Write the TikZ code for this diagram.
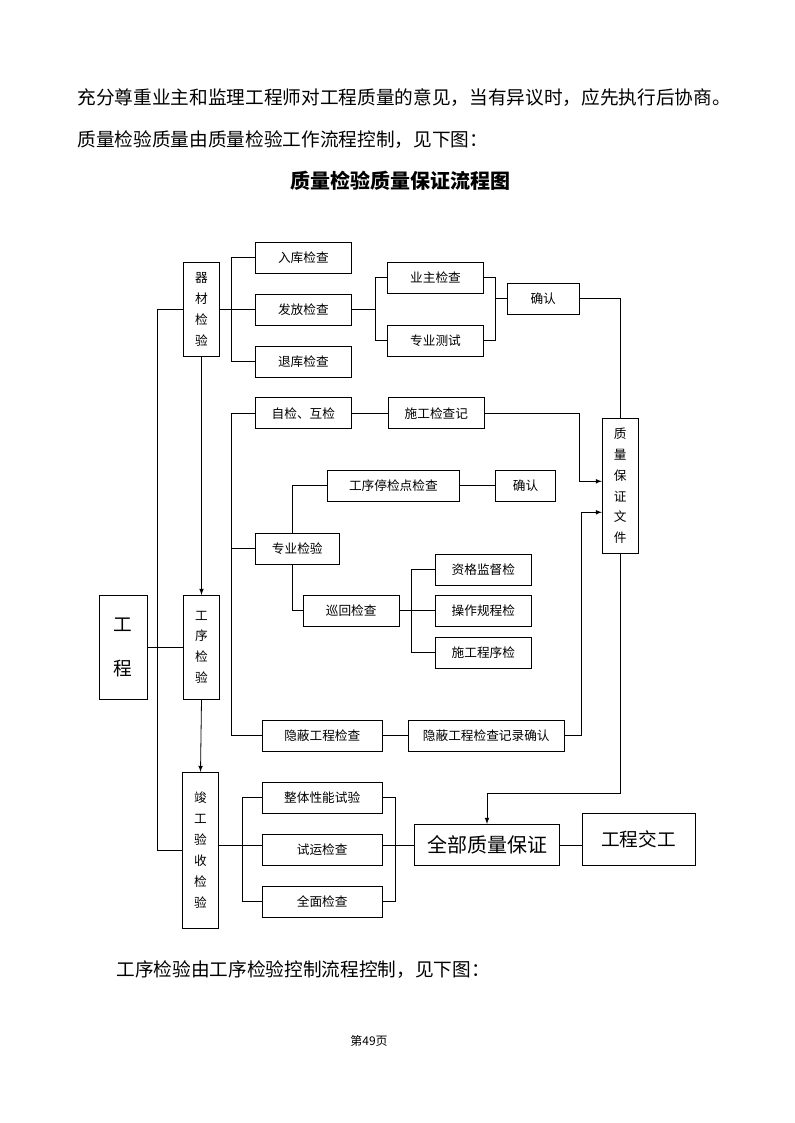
\documentclass[tikz,border=0pt]{standalone}
\usepackage{fontspec}
\setmainfont{Noto Sans CJK SC}
\begin{document}
\begin{tikzpicture}[x=0.75pt,y=-0.75pt,line width=0.6pt,>=latex]
    \tikzstyle{every node}=[font=\fontsize{9.5}{15.7}\selectfont]
    \tikzstyle{box}=[draw,inner sep=0pt,minimum height=23.25pt]
    \tikzstyle{wbox}=[box,minimum width=72pt]
    \tikzstyle{lbox}=[box,minimum width=89.8pt]
    \tikzstyle{vbox}=[draw,inner sep=0pt,minimum width=27pt,align=center]
    \tikzstyle{para}=[anchor=west,inner sep=0pt,font=\fontsize{14}{16}\selectfont]

    \useasboundingbox (0,0) rectangle (794,1123);

    % Text around the chart
    \node[para] (p1) at (77,98) {充分尊重业主和监理工程师对工程质量的意见，当有异议时，应先执行后协商。};
    \node[para] (p2) at (77,140) {质量检验质量由质量检验工作流程控制，见下图：};
    \node[font=\bfseries\fontsize{15}{17}\selectfont] (title) at (400,181) {质量检验质量保证流程图};
    \node[para] (p3) at (116,970) {工序检验由工序检验控制流程控制，见下图：};
    \node[font=\fontsize{9}{11}\selectfont] (pg) at (369,1041) {第49页};

    % Draw the material inspection part
    \node[vbox,minimum height=70.5pt] (qc) at (201.5,309.5) {器\\材\\检\\验};
    \foreach \name/\y/\txt in {rk/257.5/入库检查,ff/309.7/发放检查,tk/361.5/退库检查}
        \node[wbox] (\name) at (303.4,\y) {\txt};
    \node[wbox] (yz) at (435.5,277.8) {业主检查};
    \node[wbox] (zc) at (435.5,340.8) {专业测试};
    \node[box,minimum width=54.2pt] (qr1) at (543.2,298.8) {确认};

    % Draw the process inspection part
    \node[wbox] (zj) at (303.4,413.3) {自检、互检};
    \node[wbox] (sj) at (436.4,413.3) {施工检查记};
    \node[vbox,minimum height=101.25pt] (wj) at (620.3,485.8) {质\\量\\保\\证\\文\\件};
    \node[box,minimum width=98.85pt] (tj) at (393.4,485.8) {工序停检点检查};
    \node[box,minimum width=45.2pt] (qr2) at (525.5,485.8) {确认};
    \node[box,minimum width=63pt] (zy) at (297.3,548.8) {专业检验};
    \node[wbox] (xh) at (351.2,610.8) {巡回检查};
    \foreach \name/\y/\txt in {zg/569.5/资格监督检,cz/610.8/操作规程检,sx/652.8/施工程序检}
        \node[wbox] (\name) at (483.4,\y) {\txt};
    \node[vbox,minimum width=35.85pt,minimum height=78pt,font=\fontsize{14}{32.5}\selectfont] (gc) at (123.2,647.3) {工\\程};
    \node[vbox,minimum height=78pt] (gx) at (201.5,647.3) {工\\序\\检\\验};
    \node[lbox] (yb) at (322.3,735.8) {隐蔽工程检查};
    \node[box,minimum width=117pt] (yj) at (486.3,735.8) {隐蔽工程检查记录确认};

    % Draw the final acceptance part
    \node[vbox,minimum height=117pt] (jg) at (200.5,850.3) {竣\\工\\验\\收\\检\\验};
    \foreach \name/\y/\txt in {zt/797.8/整体性能试验,sy/849.8/试运检查,qm/901.7/全面检查}
        \node[lbox] (\name) at (322.2,\y) {\txt};
    \node[draw,inner sep=0pt,minimum width=108.2pt,minimum height=31pt,font=\fontsize{15}{17}\selectfont] (qb) at (487,845) {全部质量保证};
    \node[draw,inner sep=0pt,minimum width=84.75pt,minimum height=39pt,font=\fontsize{14}{16}\selectfont] (jj) at (638.6,839.3) {工程交工};

    % Branch lines and bends
    \coordinate (b1) at (231.8,0);
    \coordinate (b2) at (375.4,0);
    \coordinate (b3) at (495.4,0);
    \coordinate (b4) at (411.4,0);
    \coordinate (b5) at (242.2,0);
    \coordinate (b6) at (395.1,0);
    \coordinate (l1) at (157,0);
    \coordinate (v1) at (579.3,481.3);
    \coordinate (v2) at (581,512.3);
    \coordinate (k1) at (487,793.3);

    % Connect the material inspection part
    \draw (qc.east |- ff) -- (ff.west);
    \draw (rk.west) -- (rk.west -| b1) -- (tk.west -| b1) -- (tk.west);
    \draw (ff.east) -- (ff.east -| b2);
    \draw (yz.west) -- (yz.west -| b2) -- (zc.west -| b2) -- (zc.west);
    \draw (yz.east) -- (yz.east -| b3) -- (zc.east -| b3) -- (zc.east);
    \draw (qr1.west -| b3) -- (qr1.west);
    \draw (qr1.east) -| (wj.north);
    \draw[->] (wj.south) |- (k1) -- (qb.north);

    % Main column
    \draw (qc.west) -- (qc.west -| l1) -- (jg.west -| l1) -- (jg.west);
    \draw[->] (qc.south) -- (gx.north);
    \draw[->] (gx.south) -- (jg.north);
    \draw (gc.east) -- (gx.west);

    % Connect the process inspection part
    \draw (zj.west) -- (zj.west -| b1) -- (yb.west -| b1) -- (yb.west);
    \draw (zy.west -| b1) -- (zy.west);
    \draw (zj.east) -- (sj.west);
    \draw[->] (sj.east) -| (v1) -- (v1 -| wj.west);
    \draw ([xshift=-4pt]zy.north) |- (tj.west);
    \draw ([xshift=-4pt]zy.south) |- (xh.west);
    \draw (tj.east) -- (qr2.west);
    \draw (xh.east) -- (cz.west);
    \draw (zg.west) -- (zg.west -| b4) -- (sx.west -| b4) -- (sx.west);
    \draw (yb.east) -- (yj.west);
    \draw[->] (yj.east) -| (v2) -- (v2 -| wj.west);

    % Connect the final acceptance part
    \draw (jg.east |- qb) -- (sy.west |- qb);
    \draw (zt.west) -- (zt.west -| b5) -- (qm.west -| b5) -- (qm.west);
    \draw (zt.east) -- (zt.east -| b6) -- (qm.east -| b6) -- (qm.east);
    \draw (sy.east |- qb) -- (qb.west);
    \draw (qb.east) -- (qb.east -| jj.west);
\end{tikzpicture}
\end{document}
